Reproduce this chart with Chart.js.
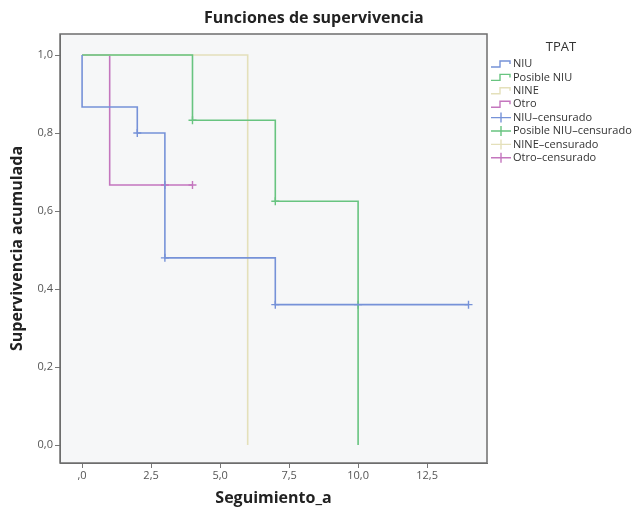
<!DOCTYPE html>
<html>
<head>
<meta charset="utf-8">
<script src="https://cdn.jsdelivr.net/npm/chart.js@4"></script>
<style>
  body { margin: 0; background: #fff; }
  #wrap { width: 638px; height: 511px; }
</style>
</head>
<body>
<div id="wrap"><canvas id="km" width="638" height="511"></canvas></div>
<script>
// survival curves (time, cumulative survival)
const niuT = [0, 0, 2, 3, 7, 14];
const niuS = [1, 0.867, 0.8, 0.48, 0.36, 0.36];
const posT = [0, 4, 7, 10];
const posS = [1, 0.833, 0.625, 0];
const nineT = [0, 6];
const nineS = [1, 0];
const otroT = [0, 1, 4];
const otroS = [1, 0.667, 0.667];

// censored points
const niuCensT = [2, 3, 7, 10, 14];
const niuCensS = [0.8, 0.48, 0.36, 0.36, 0.36];
const posCensT = [4, 7];
const posCensS = [0.833, 0.625];
const otroCensT = [3, 4];
const otroCensS = [0.667, 0.667];

const xTicks = [0, 2.5, 5, 7.5, 10, 12.5];
const yTicks = [0, 0.2, 0.4, 0.6, 0.8, 1.0];

const groups = ["NIU", "Posible NIU", "NINE", "Otro"];
const colors = ["rgb(118,146,216)", "rgb(104,196,128)", "rgb(228,224,186)", "rgb(196,118,190)"];

const pts = (t, s) => t.map((v, i) => ({ x: v, y: s[i] }));

function curve(label, t, s, color) {
    return {
        type: "line", label: label, data: pts(t, s), stepped: "before",
        borderColor: color, borderWidth: 1.6, pointRadius: 0, fill: false
    };
}
function cens(label, t, s, color) {
    return {
        type: "scatter", label: label, data: pts(t, s), pointStyle: "cross",
        pointRadius: 4, borderColor: color, borderWidth: 1.4, backgroundColor: color
    };
}

const framePlugin = {
    id: "frame",
    beforeDraw(chart) {
        const a = chart.chartArea, ctx = chart.ctx;
        ctx.save();
        ctx.fillStyle = "#f6f7f8";
        ctx.fillRect(a.left, a.top, a.right - a.left, a.bottom - a.top);
        ctx.restore();
    },
    afterDraw(chart) {
        const a = chart.chartArea, ctx = chart.ctx;
        ctx.save();
        ctx.strokeStyle = "#6e6e6e";
        ctx.lineWidth = 1.5;
        ctx.strokeRect(a.left, a.top, a.right - a.left, a.bottom - a.top);

        // chart title
        ctx.fillStyle = "#222";
        ctx.font = "bold 16px 'Open Sans', sans-serif";
        ctx.textAlign = "left";
        ctx.textBaseline = "middle";
        ctx.fillText("Funciones de supervivencia", 204, 18);

        // legend
        const x0 = 491;
        ctx.fillStyle = "#333";
        ctx.font = "13px 'Open Sans', sans-serif";
        ctx.textAlign = "center";
        ctx.fillText("TPAT", 561, 47);
        ctx.font = "11px 'Open Sans', sans-serif";
        ctx.textAlign = "left";
        const names = groups.concat(groups.map(g => g + "\u2013censurado"));
        names.forEach((name, i) => {
            const y = 64 + i * 13.4;
            const c = colors[i % 4];
            ctx.strokeStyle = c;
            ctx.lineWidth = 1.4;
            ctx.beginPath();
            if (i < 4) {
                ctx.moveTo(x0, y + 3);
                ctx.lineTo(x0 + 9, y + 3);
                ctx.lineTo(x0 + 9, y - 3);
                ctx.lineTo(x0 + 19, y - 3);
                ctx.lineTo(x0 + 19, y);
            } else {
                ctx.moveTo(x0, y);
                ctx.lineTo(x0 + 20, y);
                ctx.moveTo(x0 + 10, y - 5);
                ctx.lineTo(x0 + 10, y + 5);
            }
            ctx.stroke();
            ctx.fillStyle = "#333";
            ctx.fillText(name, x0 + 22, y);
        });
        ctx.restore();
    }
};

new Chart(document.getElementById("km"), {
    data: {
        datasets: [
            curve(groups[0], niuT, niuS, colors[0]),
            curve(groups[1], posT, posS, colors[1]),
            curve(groups[2], nineT, nineS, colors[2]),
            curve(groups[3], otroT, otroS, colors[3]),
            cens(groups[0] + "-censurado", niuCensT, niuCensS, colors[0]),
            cens(groups[1] + "-censurado", posCensT, posCensS, colors[1]),
            cens(groups[3] + "-censurado", otroCensT, otroCensS, colors[3]),
        ],
    },
    plugins: [framePlugin],
    options: {
        responsive: false,
        animation: false,
        layout: { padding: { left: 0, right: 151, top: 34, bottom: 0 } },
        plugins: {
            legend: { display: false },
            tooltip: { enabled: false },
            title: { display: false },
        },
        scales: {
            x: {
                type: "linear",
                min: -0.8,
                max: 14.67,
                afterBuildTicks: (s) => { s.ticks = xTicks.map(v => ({ value: v })); },
                afterFit: (s) => { s.height = 48; },
                ticks: {
                    color: "#555",
                    font: { family: "'Open Sans', sans-serif", size: 11 },
                    padding: 1,
                    maxRotation: 0,
                    callback: (v) => v === 0 ? ",0" : v.toFixed(1).replace(".", ","),
                },
                grid: { drawOnChartArea: false, color: "#777", tickLength: 5 },
                border: { display: true, color: "#6e6e6e" },
                title: {
                    display: true,
                    text: "Seguimiento_a",
                    color: "#222",
                    font: { family: "'Open Sans', sans-serif", size: 16, weight: "bold" },
                    padding: { top: 0, bottom: 3 },
                },
            },
            y: {
                type: "linear",
                min: -0.046,
                max: 1.054,
                afterBuildTicks: (s) => { s.ticks = yTicks.map(v => ({ value: v })); },
                afterFit: (s) => { s.width = 60; },
                ticks: {
                    color: "#555",
                    font: { family: "'Open Sans', sans-serif", size: 11 },
                    padding: 2,
                    callback: (v) => v.toFixed(1).replace(".", ","),
                },
                grid: { drawOnChartArea: false, color: "#777", tickLength: 5 },
                border: { display: true, color: "#6e6e6e" },
                title: {
                    display: true,
                    text: "Supervivencia acumulada",
                    color: "#222",
                    font: { family: "'Open Sans', sans-serif", size: 16, weight: "bold" },
                    padding: { top: 8, bottom: 0 },
                },
            },
        },
    },
});
</script>
</body>
</html>
